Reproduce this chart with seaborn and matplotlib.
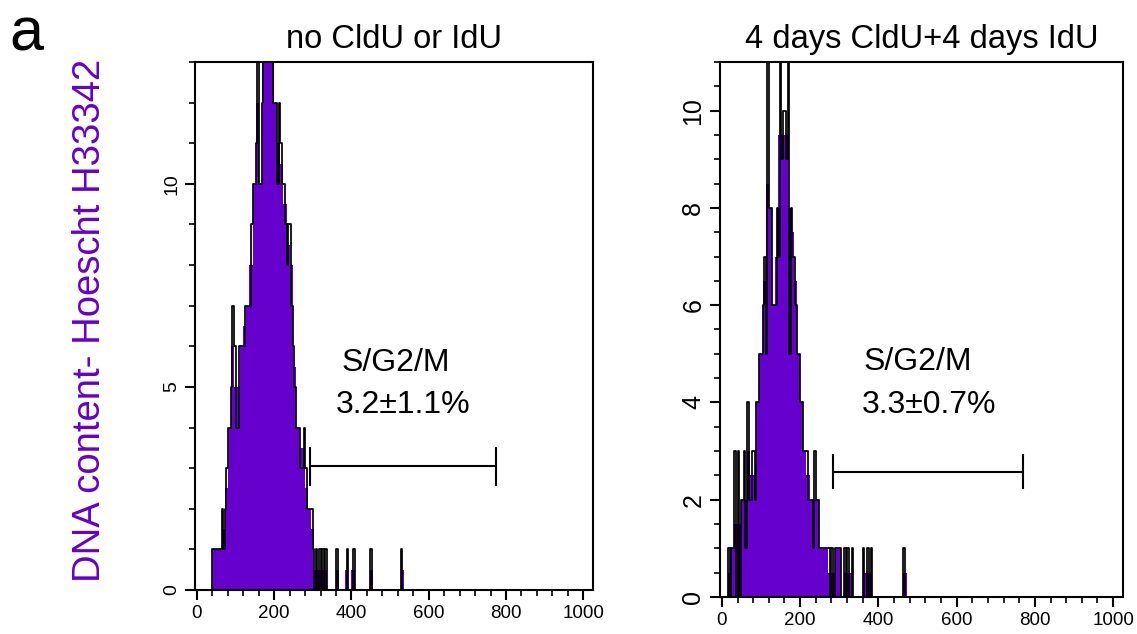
import matplotlib
matplotlib.use("Agg")
import matplotlib.pyplot as plt
import seaborn as sns
import numpy as np
import pandas as pd
from matplotlib.ticker import MultipleLocator

# raw channel counts (4 units per channel)
left_start = 40
left_counts = [1, 1, 1, 1, 1, 1, 2, 1, 2, 3, 4, 4, 5, 7, 6, 4, 4, 6, 6, 6,
               6, 7, 7, 7, 7, 9, 10, 10, 11, 13, 10, 10, 12, 14, 14, 15, 13, 15, 14, 12,
               12, 12, 10, 12, 11, 10, 10, 9, 8, 9, 9, 7, 6, 5, 4, 4, 4, 3, 3, 4,
               3, 2, 2, 2, 2, 1, 0, 1]
left_tail = [316, 324, 332, 360, 388, 404, 448, 528]
left_gate = (292, 775)
left_gate_y = 3.05

right_start = 16
right_counts = [1, 0, 1, 1, 3, 0, 3, 0, 2, 2, 3, 1, 4, 2, 2, 3, 3, 2, 4, 4,
                5, 5, 6, 7, 5, 12, 8, 8, 6, 6, 6, 8, 7, 12, 9, 10, 10, 9, 11, 5,
                8, 7, 7, 6, 5, 5, 4, 4, 3, 3, 3, 2, 2, 2, 1, 3, 2, 2, 1, 1,
                1, 1, 1, 1]
right_tail = [272, 280, 288, 292, 296, 300, 312, 320, 332, 360, 372, 380, 464]
right_gate = (284, 770)
right_gate_y = 2.57

titles = ["no CldU or IdU", "4 days CldU+4 days IdU"]
gate_labels = ["3.2\u00b11.1%", "3.3\u00b10.7%"]

PURPLE = "#6600cc"


def channel_table(start, counts, tail):
    ch = list(start + 4 * np.arange(len(counts))) + list(tail)
    n = list(counts) + [1] * len(tail)
    df = pd.DataFrame({"channel": np.array(ch) + 2, "count": n})
    df["half"] = df["count"] / 2  # purple trace = mean of two channels
    return df


def draw_panel(ax, df, gate, gate_y, tick_h, ymax, ystep, yminor, ylab_size, title):
    sns.histplot(data=df, x="channel", weights="half", binwidth=8, binrange=(0, 1024),
                 element="step", fill=True, color=PURPLE, alpha=1, linewidth=0, ax=ax)
    sns.histplot(data=df, x="channel", weights="count", binwidth=4, binrange=(0, 1024),
                 element="step", fill=False, color="black", linewidth=1.25, ax=ax)

    # S/G2/M gate
    ax.plot(gate, [gate_y, gate_y], color="black", lw=1.5)
    ax.vlines(gate, gate_y - tick_h, gate_y + tick_h, color="black", lw=1.5)

    ax.set_xlim(-5, 1025)
    ax.set_ylim(0, ymax)
    ax.xaxis.set_major_locator(MultipleLocator(200))
    ax.xaxis.set_minor_locator(MultipleLocator(40))
    ax.yaxis.set_major_locator(MultipleLocator(ystep))
    ax.yaxis.set_minor_locator(MultipleLocator(yminor))
    ax.tick_params(which="major", length=7, width=1.5, labelsize=13.5, color="black")
    ax.tick_params(which="minor", length=4, width=1.2, color="black")
    ax.tick_params(axis="y", labelsize=ylab_size)
    plt.setp(ax.get_yticklabels(), rotation=90, va="center")
    for s in ax.spines.values():
        s.set_linewidth(1.5)
        s.set_color("black")
    ax.set_xlabel("")
    ax.set_ylabel("")
    ax.set_title(title, fontsize=23.5, pad=10)
    return ax


sns.set_style("ticks")
plt.rcParams["font.family"] = ["Liberation Sans", "DejaVu Sans"]
plt.rcParams["text.color"] = "black"
plt.rcParams["xtick.labelcolor"] = "black"
plt.rcParams["ytick.labelcolor"] = "black"

fig = plt.figure(figsize=(11.37, 6.34), dpi=100)
ax1 = fig.add_axes([0.1715, 0.0694, 0.350, 0.8328])
ax2 = fig.add_axes([0.6332, 0.0584, 0.3544, 0.8438])

draw_panel(ax1, channel_table(left_start, left_counts, left_tail), left_gate, left_gate_y,
           0.48, 13, 5, 1, 14, titles[0])
draw_panel(ax2, channel_table(right_start, right_counts, right_tail), right_gate, right_gate_y,
           0.36, 11, 2, 0.5, 18, titles[1])

ax1.text(375, 5.4, "S/G2/M", fontsize=23, va="baseline")
ax1.text(359, 4.35, gate_labels[0], fontsize=23, va="baseline")
ax2.text(363, 4.67, "S/G2/M", fontsize=23, va="baseline")
ax2.text(358, 3.79, gate_labels[1], fontsize=23, va="baseline")

fig.text(0.079, 0.495, "DNA content- Hoescht H33342", rotation=90, color=PURPLE,
         fontsize=27.5, ha="center", va="center")
fig.text(0.008, 0.92, "a", fontsize=44, va="baseline")

fig.savefig("out.png", dpi=100)
plt.close(fig)
